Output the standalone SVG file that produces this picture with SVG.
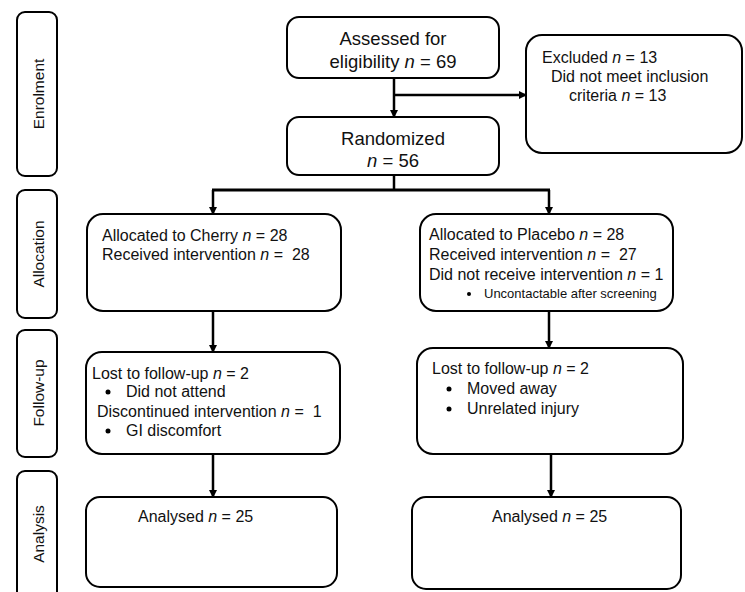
<svg xmlns="http://www.w3.org/2000/svg" width="745" height="592" viewBox="0 0 745 592">
<style>
.box{fill:#fff;stroke:#000;stroke-width:2}
.side{fill:#fff;stroke:#000;stroke-width:2}
.t{font-family:"Liberation Sans",Arial,sans-serif;font-size:16px;fill:#111;white-space:pre}
.big{font-size:18.5px}
.sm{font-size:13px}
.lab{font-family:"Liberation Sans",Arial,sans-serif;font-size:15.5px;fill:#111;text-anchor:middle}
.c{text-anchor:middle}
.ln{fill:none;stroke:#000;stroke-width:2.5}
.thick{stroke-width:3}
</style>
<defs>
<marker id="ah" markerWidth="8" markerHeight="8" refX="7" refY="4" orient="auto" markerUnits="userSpaceOnUse">
<path d="M0,0 L8,4 L0,8 Z" fill="#000"/>
</marker>
</defs>
<g id="stages">
<g id="stage-enrolment"><rect class="side" x="17" y="12" width="40" height="164" rx="8"/><text class="lab" transform="translate(44,94) rotate(-90)">Enrolment</text></g>
<g id="stage-allocation"><rect class="side" x="17" y="190" width="40" height="128" rx="8"/><text class="lab" transform="translate(44,254) rotate(-90)">Allocation</text></g>
<g id="stage-followup"><rect class="side" x="17" y="330" width="40" height="127" rx="8"/><text class="lab" transform="translate(44,393) rotate(-90)">Follow-up</text></g>
<g id="stage-analysis"><rect class="side" x="17" y="471" width="40" height="130" rx="8"/><text class="lab" transform="translate(44,534) rotate(-90)">Analysis</text></g>
</g>
<g id="connectors">
<line class="ln" x1="394" y1="78" x2="394" y2="117" marker-end="url(#ah)"/>
<line class="ln" x1="394" y1="95" x2="526" y2="95" marker-end="url(#ah)"/>
<line class="ln" x1="394" y1="175" x2="394" y2="190"/>
<line class="ln thick" x1="212" y1="190" x2="550" y2="190"/>
<line class="ln" x1="213" y1="190" x2="213" y2="214" marker-end="url(#ah)"/>
<line class="ln" x1="549" y1="190" x2="549" y2="214" marker-end="url(#ah)"/>
<line class="ln" x1="213" y1="311" x2="213" y2="352" marker-end="url(#ah)"/>
<line class="ln" x1="549" y1="311" x2="549" y2="348" marker-end="url(#ah)"/>
<line class="ln" x1="213" y1="454" x2="213" y2="497" marker-end="url(#ah)"/>
<line class="ln" x1="551" y1="454" x2="551" y2="497" marker-end="url(#ah)"/>
</g>
<g id="assessed">
<rect class="box" x="287" y="17" width="212" height="61" rx="12"/>
<text class="t big c" x="393" y="45">Assessed for</text>
<text class="t big c" x="393" y="68">eligibility <tspan font-style="italic">n</tspan> = 69</text>
</g>
<g id="excluded">
<rect class="box" x="526" y="35" width="216" height="118" rx="16"/>
<text class="t" x="542" y="63">Excluded <tspan font-style="italic">n</tspan> = 13</text>
<text class="t" x="551" y="82">Did not meet inclusion</text>
<text class="t" x="569" y="101">criteria <tspan font-style="italic">n</tspan> = 13</text>
</g>
<g id="randomized">
<rect class="box" x="287" y="117" width="212" height="58" rx="12"/>
<text class="t big c" x="393" y="145">Randomized</text>
<text class="t big c" x="393" y="167"><tspan font-style="italic">n</tspan> = 56</text>
</g>
<g id="alloc-cherry">
<rect class="box" x="87" y="214" width="254" height="97" rx="16"/>
<text class="t" x="102" y="241">Allocated to Cherry <tspan font-style="italic">n</tspan> = 28</text>
<text class="t" x="102" y="260">Received intervention <tspan font-style="italic">n</tspan> =  28</text>
</g>
<g id="alloc-placebo">
<rect class="box" x="420" y="214" width="253" height="97" rx="16"/>
<text class="t" x="429" y="240">Allocated to Placebo <tspan font-style="italic">n</tspan> = 28</text>
<text class="t" x="429" y="260">Received intervention <tspan font-style="italic">n</tspan> =  27</text>
<text class="t" x="429" y="280">Did not receive intervention <tspan font-style="italic">n</tspan> = 1</text>
<circle cx="469" cy="294" r="2"/>
<text class="t sm" x="484" y="298">Uncontactable after screening</text>
</g>
<g id="followup-cherry">
<rect class="box" x="86" y="352" width="254" height="102" rx="16"/>
<text class="t" x="92" y="379">Lost to follow-up <tspan font-style="italic">n</tspan> = 2</text>
<circle cx="108" cy="392" r="2.5"/>
<text class="t" x="126" y="397">Did not attend</text>
<text class="t" x="97" y="417">Discontinued intervention <tspan font-style="italic">n</tspan> =  1</text>
<circle cx="108" cy="431" r="2.5"/>
<text class="t" x="126" y="436">GI discomfort</text>
</g>
<g id="followup-placebo">
<rect class="box" x="417" y="348" width="266" height="106" rx="16"/>
<text class="t" x="432" y="374">Lost to follow-up <tspan font-style="italic">n</tspan> = 2</text>
<circle cx="449" cy="389" r="2.5"/>
<text class="t" x="467" y="394">Moved away</text>
<circle cx="449" cy="409" r="2.5"/>
<text class="t" x="467" y="414">Unrelated injury</text>
</g>
<g id="analysis-cherry">
<rect class="box" x="86" y="497" width="251" height="90" rx="14"/>
<text class="t" x="138" y="522">Analysed <tspan font-style="italic">n</tspan> = 25</text>
</g>
<g id="analysis-placebo">
<rect class="box" x="412" y="497" width="269" height="92" rx="14"/>
<text class="t" x="492" y="522">Analysed <tspan font-style="italic">n</tspan> = 25</text>
</g>
</svg>
